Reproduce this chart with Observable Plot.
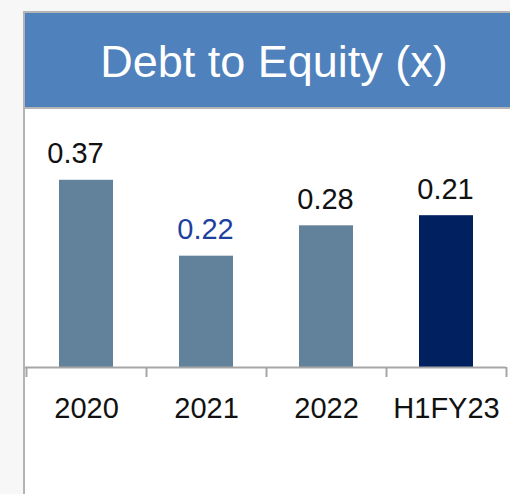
<!DOCTYPE html>
<html>
<head>
<meta charset="utf-8">
<script src="https://cdn.jsdelivr.net/npm/d3@7"></script>
<script src="https://cdn.jsdelivr.net/npm/@observablehq/plot@0.6"></script>
<style>
  html, body { margin: 0; padding: 0; }
  body { width: 510px; height: 494px; background: #f7f7f7; position: relative; overflow: hidden; font-family: "Liberation Sans", Arial, sans-serif; }
  #panel { position: absolute; left: 23px; top: 11px; width: 500px; height: 500px; background: #ffffff; border-left: 2px solid #b4b4b4; }
  #header { position: absolute; left: 0; top: 0; width: 500px; height: 94px; background: #4f81bd; border-top: 2px solid #b4b4b4; border-bottom: 2px solid #b4b4b4; }
  #title { position: absolute; left: 0; width: 498px; top: 23px; text-align: center; color: #ffffff; font-size: 45px; line-height: 52px; white-space: nowrap; }
  #chart { position: absolute; left: 0; top: 98px; }
</style>
</head>
<body>
<div id="panel">
  <div id="header"><div id="title">Debt to Equity (x)</div></div>
  <div id="chart"></div>
</div>
<script>
const categories = ["2020", "2021", "2022", "H1FY23"];
const barValues = [0.37, 0.22, 0.28, 0.30];
const valueLabels = ["0.37", "0.22", "0.28", "0.21"];

const data = categories.map((c, i) => ({category: c, value: barValues[i], label: valueLabels[i]}));

const steel = "#62819a";
const navy = "#002060";
const axisGray = "#a6a6a6";

const labelOpts = {
  x: "category", y: "value", text: "label",
  lineAnchor: "bottom", dy: -17, fontSize: 29,
  fill: d => d.category === "2021" ? "#1f3f9f" : "#111111"
};

const chart = Plot.plot({
  width: 486,
  height: 396,
  marginLeft: 0,
  marginRight: 5,
  marginTop: 5,
  marginBottom: 138,
  style: {fontFamily: "'Liberation Sans', Arial, sans-serif", background: "transparent"},
  x: {domain: categories, paddingInner: 0.55, paddingOuter: 0.275, axis: null, label: null},
  y: {domain: [0, 0.5], axis: null, label: null},
  marks: [
    Plot.barY(data, {x: "category", y: "value", fill: d => d.category === "H1FY23" ? navy : steel}),
    Plot.text(data, {...labelOpts, filter: d => d.category === "2020", dx: -11}),
    Plot.text(data, {...labelOpts, filter: d => d.category !== "2020", dx: -1}),
    Plot.ruleY([0], {stroke: axisGray, strokeWidth: 2}),
    Plot.axisX(categories, {tickSize: 10, tickFormat: () => "", label: null, dx: -60, stroke: axisGray, strokeWidth: 2}),
    Plot.axisX([categories[categories.length - 1]], {tickSize: 10, tickFormat: () => "", label: null, dx: 60, stroke: axisGray, strokeWidth: 2}),
    Plot.axisX(categories, {tickSize: 0, tickPadding: 30, label: null, fontSize: 29, fill: "#111111"})
  ]
});
document.getElementById("chart").appendChild(chart);
</script>
</body>
</html>
